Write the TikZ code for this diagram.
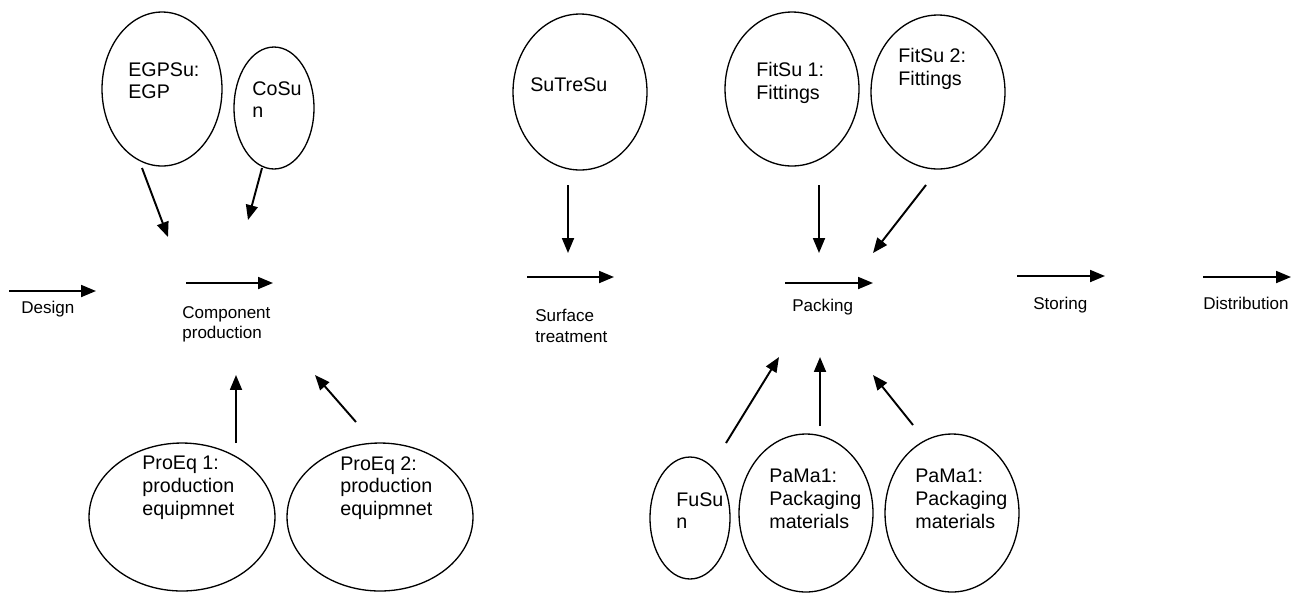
\documentclass[tikz,border=0pt]{standalone}
\usepackage{fontspec}
\setmainfont{Liberation Sans}
\usetikzlibrary{arrows.meta,shapes.geometric,positioning}

\tikzset{
  supplier/.style={draw,ellipse,line width=0.75pt,inner sep=0pt},
  suptext/.style={anchor=north west,inner sep=0pt,align=left,font=\fontsize{11.2}{13}\selectfont},
  steptext/.style={anchor=north west,inner sep=0pt,align=left,font=\fontsize{9.7}{11.6}\selectfont},
  flow/.style={-{Triangle[length=8.5pt,width=6.8pt]},line width=1.1pt},
}

\begin{document}
\begin{tikzpicture}[x=0.02cm,y=-0.02cm]
  \useasboundingbox (0,0) rectangle (1300,593);

  % suppliers
  \node[supplier,minimum width=2.4cm,minimum height=3.08cm] (egp) at (162,89) {};
  \node[supplier,minimum width=1.6cm,minimum height=2.44cm] (cosun) at (274,108) {};
  \node[supplier,minimum width=3.72cm,minimum height=2.96cm] (proeq1) at (182,517) {};
  \node[supplier,minimum width=3.72cm,minimum height=2.96cm] (proeq2) at (380,517) {};
  \node[supplier,minimum width=2.68cm,minimum height=3.12cm] (sutresu) at (580,92) {};
  \node[supplier,minimum width=2.68cm,minimum height=3.08cm] (fitsu1) at (792,89) {};
  \node[supplier,minimum width=2.68cm,minimum height=3.08cm] (fitsu2) at (938,92) {};
  \node[supplier,minimum width=1.6cm,minimum height=2.44cm] (fusun) at (690,518) {};
  \node[supplier,minimum width=2.68cm,minimum height=3.16cm] (pama1) at (806,513) {};
  \node[supplier,minimum width=2.68cm,minimum height=3.16cm] (pama2) at (952,513) {};

  \node[suptext] (egp-txt) at (128,62) {EGPSu:\\EGP};
  \node[suptext] (cosun-txt) at (252,81) {CoSu\\n};
  \node[suptext] (proeq1-txt) at (142,456) {ProEq 1:\\production\\equipmnet};
  \node[suptext] (proeq2-txt) at (340,456) {ProEq 2:\\production\\equipmnet};
  \node[suptext] (sutresu-txt) at (530,77) {SuTreSu};
  \node[suptext] (fitsu1-txt) at (756,62) {FitSu 1:\\Fittings};
  \node[suptext] (fitsu2-txt) at (898,48) {FitSu 2:\\Fittings};
  \node[suptext] (fusun-txt) at (676,492) {FuSu\\n};
  \node[suptext] (pama1-txt) at (769,469) {PaMa1:\\Packaging\\materials};
  \node[suptext] (pama2-txt) at (915,469) {PaMa1:\\Packaging\\materials};

  % process steps
  \coordinate (design-a) at (9,291);    \coordinate (design-b) at (96,291);
  \coordinate (comp-a) at (186,283);    \coordinate (comp-b) at (273,283);
  \coordinate (surf-a) at (527,277);    \coordinate (surf-b) at (614,277);
  \coordinate (pack-a) at (785,283);    \coordinate (pack-b) at (873,283);
  \coordinate (stor-a) at (1017,276);   \coordinate (stor-b) at (1105,276);
  \coordinate (dist-a) at (1203,277);   \coordinate (dist-b) at (1291,277);

  \draw[flow] (design-a) -- (design-b);
  \draw[flow] (comp-a) -- (comp-b);
  \draw[flow] (surf-a) -- (surf-b);
  \draw[flow] (pack-a) -- (pack-b);
  \draw[flow] (stor-a) -- (stor-b);
  \draw[flow] (dist-a) -- (dist-b);

  \node[steptext] (design) at (21,301) {Design};
  \node[steptext] (comp) at (182,306) {Component\\production};
  \node[steptext] (surf) at (535,309) {Surface\\treatment};
  \node[steptext] (pack) at (792,299) {Packing};
  \node[steptext] (stor) at (1033,297) {Storing};
  \node[steptext] (dist) at (1203,297) {Distribution};

  % supplier arrows
  \coordinate (egp-t) at (142,168);     \coordinate (egp-h) at (168,237);
  \coordinate (cosun-t) at (262,168);   \coordinate (cosun-h) at (248,220);
  \coordinate (proeq1-t) at (236,443);  \coordinate (proeq1-h) at (236,375);
  \coordinate (proeq2-t) at (356,422);  \coordinate (proeq2-h) at (315,375);
  \coordinate (sutresu-t) at (568,185); \coordinate (sutresu-h) at (568,253);
  \coordinate (fitsu1-t) at (819,185);  \coordinate (fitsu1-h) at (819,253);
  \coordinate (fitsu2-t) at (926,185);  \coordinate (fitsu2-h) at (873,253);
  \coordinate (fusun-t) at (726,443);   \coordinate (fusun-h) at (779,357);
  \coordinate (pama1-t) at (820,426);   \coordinate (pama1-h) at (820,357);
  \coordinate (pama2-t) at (913,425);   \coordinate (pama2-h) at (873,375);

  \draw[flow] (egp-t) -- (egp-h);
  \draw[flow] (cosun-t) -- (cosun-h);
  \draw[flow] (proeq1-t) -- (proeq1-h);
  \draw[flow] (proeq2-t) -- (proeq2-h);
  \draw[flow] (sutresu-t) -- (sutresu-h);
  \draw[flow] (fitsu1-t) -- (fitsu1-h);
  \draw[flow] (fitsu2-t) -- (fitsu2-h);
  \draw[flow] (fusun-t) -- (fusun-h);
  \draw[flow] (pama1-t) -- (pama1-h);
  \draw[flow] (pama2-t) -- (pama2-h);
\end{tikzpicture}
\end{document}
